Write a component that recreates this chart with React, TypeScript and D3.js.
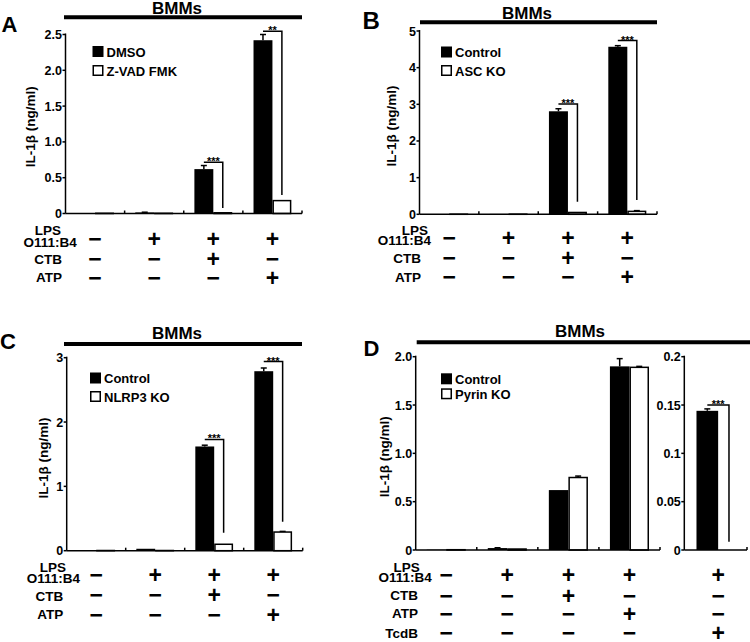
import React from "react";
import * as d3 from "d3";

// ---------- data ----------
const groups = ["G1", "G2", "G3", "G4"];
const lpsSigns = ["−", "+", "+", "+"];
const ctbSigns = ["−", "−", "+", "−"];
const atpSigns = ["−", "−", "−", "+"];
const tcdbSigns = ["−", "−", "−", "−"];

const tcdbGroup = ["G5"];
const tcdbLpsSigns = ["+"];
const tcdbCtbSigns = ["−"];
const tcdbAtpSigns = ["−"];
const tcdbTcdbSigns = ["+"];

// Panel A
const aNames = ["DMSO", "Z-VAD FMK"];
const aDmso = [0.005, 0.015, 0.62, 2.42];
const aDmsoErr = [0, 0.003, 0.05, 0.08];
const aZvad = [0.003, 0.003, 0.01, 0.18];
const aZvadErr = [0, 0, 0, 0];
const aTicks = [0, 0.5, 1, 1.5, 2, 2.5];

// Panel B
const bNames = ["Control", "ASC KO"];
const bCtrl = [0.003, 0.01, 2.81, 4.57];
const bCtrlErr = [0, 0, 0.07, 0.03];
const bKo = [0.002, 0.003, 0.05, 0.08];
const bKoErr = [0, 0, 0, 0.02];
const bTicks = [0, 1, 2, 3, 4, 5];

// Panel C
const cNames = ["Control", "NLRP3 KO"];
const cCtrl = [0.01, 0.03, 1.62, 2.79];
const cCtrlErr = [0, 0, 0.02, 0.05];
const cKo = [0.003, 0.003, 0.1, 0.29];
const cKoErr = [0, 0, 0, 0.01];
const cTicks = [0, 1, 2, 3];

// Panel D
const dNames = ["Control", "Pyrin KO"];
const dCtrl = [0.003, 0.02, 0.62, 1.9];
const dCtrlErr = [0, 0.003, 0, 0.08];
const dKo = [0.003, 0.01, 0.75, 1.89];
const dKoErr = [0, 0, 0.015, 0.01];
const dTicks = [0, 0.5, 1, 1.5, 2];
const drCtrl = [0.144];
const drCtrlErr = [0.002];
const drKo = [0];
const drKoErr = [0];
const drTicks = [0, 0.05, 0.1, 0.15, 0.2];

// significance brackets: group, level, end (data units)
const aBrackets = [
  { g: "G3", level: 0.715, end: 0.077 },
  { g: "G4", level: 2.545, end: 0.26 },
];
const aStars = ["***", "**"];
const bBrackets = [
  { g: "G3", level: 3.01, end: 0.34 },
  { g: "G4", level: 4.74, end: 0.39 },
];
const bStars = ["***", "***"];
const cBrackets = [
  { g: "G3", level: 1.73, end: 0.28 },
  { g: "G4", level: 2.94, end: 0.45 },
];
const cStars = ["***", "***"];
const drBrackets = [{ g: "G5", level: 0.15, end: 0.0086 }];
const drStars = ["***"];

// ---------- styles ----------
const FONT = "'Liberation Sans', Arial, sans-serif";

type SubCfg = {
  cats: string[];
  x0: number;
  x1: number;
  axisEnd: number;
  y0: number;
  yTop: number;
  yMax: number;
  ticks: number[];
  fmt: (d: number) => string;
  s0: number[];
  e0: number[];
  s1: number[];
  e1: number[];
  brackets: { g: string; level: number; end: number }[];
  stars: string[];
};

function Sub({ c }: { c: SubCfg }) {
  const x = d3.scaleBand<string>().domain(c.cats).range([c.x0, c.x1]).padding(0);
  const y = d3.scaleLinear().domain([0, c.yMax]).range([c.y0, c.yTop]);
  const bw = x.bandwidth();
  const barW = bw * 0.32;
  const sub = (g: string) =>
    d3
      .scaleBand<number>()
      .domain([0, 1])
      .range([(x(g) as number) + bw / 2 - barW, (x(g) as number) + bw / 2 + barW])
      .padding(0);
  const els: any[] = [];
  // bars
  c.cats.forEach((g, i) => {
    const s = sub(g);
    const w = s.bandwidth();
    [
      { v: c.s0[i], e: c.e0[i], k: 0 },
      { v: c.s1[i], e: c.e1[i], k: 1 },
    ].forEach(({ v, e, k }) => {
      const bx = s(k) as number;
      const top = y(v);
      const cx = bx + w / 2;
      if (e > 0) {
        els.push(
          <g key={`e${g}${k}`} stroke="#000" strokeWidth={1.5}>
            <line x1={cx} x2={cx} y1={top} y2={y(v + e)} />
            <line x1={cx - 3} x2={cx + 3} y1={y(v + e)} y2={y(v + e)} />
          </g>
        );
      }
      if (k === 0) {
        els.push(
          <rect key={`b${g}${k}`} x={bx} y={top} width={w} height={c.y0 - top} fill="#000" />
        );
      } else {
        els.push(
          <rect
            key={`b${g}${k}`}
            x={bx + 0.75}
            y={top}
            width={w - 1.5}
            height={Math.max(0, c.y0 - top)}
            fill="#fff"
            stroke="#000"
            strokeWidth={1.5}
          />
        );
      }
    });
  });
  // brackets
  c.brackets.forEach((b, i) => {
    const s = sub(b.g);
    const w = s.bandwidth();
    const lx = (s(0) as number) + w / 2;
    const rx = (s(1) as number) + w / 2;
    const ly = y(b.level);
    els.push(
      <g key={`br${i}`}>
        <path
          d={`M${lx},${ly}H${rx}V${y(b.end)}`}
          fill="none"
          stroke="#000"
          strokeWidth={1.5}
        />
        <text x={(lx + rx) / 2} y={ly + 3} textAnchor="middle" fontSize={11} fontWeight="bold">
          {c.stars[i]}
        </text>
      </g>
    );
  });
  // axes
  els.push(
    <g key="ax" stroke="#000" strokeWidth={1.5}>
      <line x1={c.x0} x2={c.x0} y1={c.y0} y2={c.yTop - 1} />
      <line x1={c.x0} x2={c.axisEnd} y1={c.y0} y2={c.y0} />
      {c.ticks.map((t) => (
        <line key={t} x1={c.x0 - 3} x2={c.x0} y1={y(t)} y2={y(t)} />
      ))}
      {c.cats.map((g, i) =>
        i < c.cats.length - 1 ? (
          <line key={g} x1={(x(g) as number) + bw} x2={(x(g) as number) + bw} y1={c.y0 - 3} y2={c.y0} />
        ) : null
      )}
      <line x1={c.axisEnd} x2={c.axisEnd} y1={c.y0 - 3} y2={c.y0} />
    </g>
  );
  c.ticks.forEach((t) =>
    els.push(
      <text
        key={`tl${t}`}
        x={c.x0 - 3.5}
        y={y(t)}
        dy="0.36em"
        textAnchor="end"
        fontSize={12.5}
        fontWeight="bold"
      >
        {c.fmt(t)}
      </text>
    )
  );
  return <g>{els}</g>;
}

function Signs({
  cats,
  x0,
  x1,
  rows,
  ys,
}: {
  cats: string[];
  x0: number;
  x1: number;
  rows: string[][];
  ys: number[];
}) {
  const x = d3.scaleBand<string>().domain(cats).range([x0, x1]).padding(0);
  return (
    <g>
      {rows.map((r, ri) =>
        r.map((s, i) => (
          <text
            key={`${ri}-${i}`}
            x={(x(cats[i]) as number) + x.bandwidth() / 2}
            y={ys[ri] + 7.8}
            textAnchor="middle"
            fontSize={23}
            fontWeight="bold"
          >
            {s}
          </text>
        ))
      )}
    </g>
  );
}

function Legend({ x, y, gap, names }: { x: number; y: number; gap: number; names: string[] }) {
  return (
    <g>
      <rect x={x} y={y} width={11} height={11} fill="#000" />
      <rect x={x + 0.75} y={y + gap + 0.75} width={9.5} height={9.5} fill="#fff" stroke="#000" strokeWidth={1.5} />
      <text x={x + 14} y={y + 10.5} fontSize={13} fontWeight="bold">
        {names[0]}
      </text>
      <text x={x + 14} y={y + gap + 10.5} fontSize={13} fontWeight="bold">
        {names[1]}
      </text>
    </g>
  );
}

function Title({ cx, base, lineY, lx0, lx1 }: { cx: number; base: number; lineY: number; lx0: number; lx1: number }) {
  return (
    <g>
      <text x={cx} y={base} textAnchor="middle" fontSize={17} fontWeight="bold">
        BMMs
      </text>
      <line x1={lx0} x2={lx1} y1={lineY} y2={lineY} stroke="#000" strokeWidth={4} />
    </g>
  );
}

function YLabel({ cx, cy }: { cx: number; cy: number }) {
  return (
    <text
      transform={`translate(${cx},${cy}) rotate(-90)`}
      textAnchor="middle"
      dy="0.35em"
      fontSize={13.5}
      fontWeight="bold"
    >
      IL-1β (ng/ml)
    </text>
  );
}

function CondLabels({
  lpsX,
  lpsBase,
  oRight,
  oBase,
  rowRight,
  rows,
}: {
  lpsX: number;
  lpsBase: number;
  oRight: number;
  oBase: number;
  rowRight: number;
  rows: { t: string; b: number }[];
}) {
  return (
    <g fontSize={13.5} fontWeight="bold">
      <text x={lpsX} y={lpsBase} textAnchor="middle">
        LPS
      </text>
      <text x={oRight} y={oBase} textAnchor="end">
        O111:B4
      </text>
      {rows.map((r) => (
        <text key={r.t} x={rowRight} y={r.b} textAnchor="end">
          {r.t}
        </text>
      ))}
    </g>
  );
}

const fmt1 = (d: number) => (d === 0 ? "0" : d.toFixed(1));
const fmtInt = (d: number) => String(d);
const fmtRaw = (d: number) => String(d);

export default function App() {
  const A: SubCfg = {
    cats: groups, x0: 65.5, x1: 302, axisEnd: 302, y0: 213.5, yTop: 34.5, yMax: 2.5,
    ticks: aTicks, fmt: fmt1, s0: aDmso, e0: aDmsoErr, s1: aZvad, e1: aZvadErr,
    brackets: aBrackets, stars: aStars,
  };
  const B: SubCfg = {
    cats: groups, x0: 419.5, x1: 657, axisEnd: 657, y0: 214.3, yTop: 31, yMax: 5,
    ticks: bTicks, fmt: fmtInt, s0: bCtrl, e0: bCtrlErr, s1: bKo, e1: bKoErr,
    brackets: bBrackets, stars: bStars,
  };
  const C: SubCfg = {
    cats: groups, x0: 66.7, x1: 302.7, axisEnd: 302.7, y0: 550.7, yTop: 357.7, yMax: 3,
    ticks: cTicks, fmt: fmtInt, s0: cCtrl, e0: cCtrlErr, s1: cKo, e1: cKoErr,
    brackets: cBrackets, stars: cStars,
  };
  const D: SubCfg = {
    cats: groups, x0: 415.7, x1: 660, axisEnd: 660, y0: 550, yTop: 356.7, yMax: 2,
    ticks: dTicks, fmt: fmt1, s0: dCtrl, e0: dCtrlErr, s1: dKo, e1: dKoErr,
    brackets: [], stars: [],
  };
  const DR: SubCfg = {
    cats: tcdbGroup, x0: 684.3, x1: 752, axisEnd: 747, y0: 550, yTop: 356.7, yMax: 0.2,
    ticks: drTicks, fmt: fmtRaw, s0: drCtrl, e0: drCtrlErr, s1: drKo, e1: drKoErr,
    brackets: drBrackets, stars: drStars,
  };

  return (
    <svg
      width={750}
      height={642}
      style={{ position: "absolute", left: 0, top: 0, background: "#fff" }}
      fontFamily={FONT}
    >
      <rect width={750} height={642} fill="#fff" />
      {/* Panel letters */}
      <text x={1.5} y={31.7} fontSize={22} fontWeight="bold">A</text>
      <text x={362.5} y={29.4} fontSize={24} fontWeight="bold">B</text>
      <text x={0} y={349} fontSize={22} fontWeight="bold">C</text>
      <text x={363.5} y={355.7} fontSize={22} fontWeight="bold">D</text>

      {/* Titles */}
      <Title cx={177} base={13.5} lineY={17.3} lx0={64} lx1={302} />
      <Title cx={527} base={18.5} lineY={22.3} lx0={420} lx1={657} />
      <Title cx={177} base={338.5} lineY={344} lx0={64} lx1={302} />
      <Title cx={580} base={337} lineY={342.3} lx0={416.7} lx1={750} />

      {/* Y labels */}
      <YLabel cx={30} cy={126.7} />
      <YLabel cx={391} cy={126} />
      <YLabel cx={43.5} cy={458} />
      <YLabel cx={384} cy={456.7} />

      {/* Plots */}
      <Sub c={A} />
      <Sub c={B} />
      <Sub c={C} />
      <Sub c={D} />
      <Sub c={DR} />

      {/* Legends */}
      <Legend x={92.5} y={46} gap={19} names={aNames} />
      <Legend x={441} y={46.5} gap={18.5} names={bNames} />
      <Legend x={90} y={372.5} gap={18.5} names={cNames} />
      <Legend x={441} y={373.3} gap={15} names={dNames} />

      {/* Condition labels */}
      <CondLabels lpsX={48} lpsBase={235} oRight={76.7} oBase={246.7} rowRight={62}
        rows={[{ t: "CTB", b: 264 }, { t: "ATP", b: 281.7 }]} />
      <CondLabels lpsX={415} lpsBase={235} oRight={431} oBase={245} rowRight={421}
        rows={[{ t: "CTB", b: 263.3 }, { t: "ATP", b: 281.7 }]} />
      <CondLabels lpsX={53} lpsBase={571.7} oRight={80} oBase={583} rowRight={63.3}
        rows={[{ t: "CTB", b: 601 }, { t: "ATP", b: 619 }]} />
      <CondLabels lpsX={406.7} lpsBase={571.7} oRight={431.7} oBase={581.7} rowRight={418}
        rows={[{ t: "CTB", b: 600 }, { t: "ATP", b: 618.3 }, { t: "TcdB", b: 638.3 }]} />

      {/* Signs */}
      <Signs cats={groups} x0={65.5} x1={302} rows={[lpsSigns, ctbSigns, atpSigns]} ys={[238.7, 259.5, 278]} />
      <Signs cats={groups} x0={419.5} x1={657} rows={[lpsSigns, ctbSigns, atpSigns]} ys={[238.3, 258.3, 277]} />
      <Signs cats={groups} x0={66.7} x1={302.7} rows={[lpsSigns, ctbSigns, atpSigns]} ys={[575, 595, 615]} />
      <Signs cats={groups} x0={415.7} x1={660} rows={[lpsSigns, ctbSigns, atpSigns, tcdbSigns]} ys={[575, 596, 614, 633]} />
      <Signs cats={tcdbGroup} x0={684.3} x1={752} rows={[tcdbLpsSigns, tcdbCtbSigns, tcdbAtpSigns, tcdbTcdbSigns]} ys={[575, 596, 614, 633]} />
    </svg>
  );
}
